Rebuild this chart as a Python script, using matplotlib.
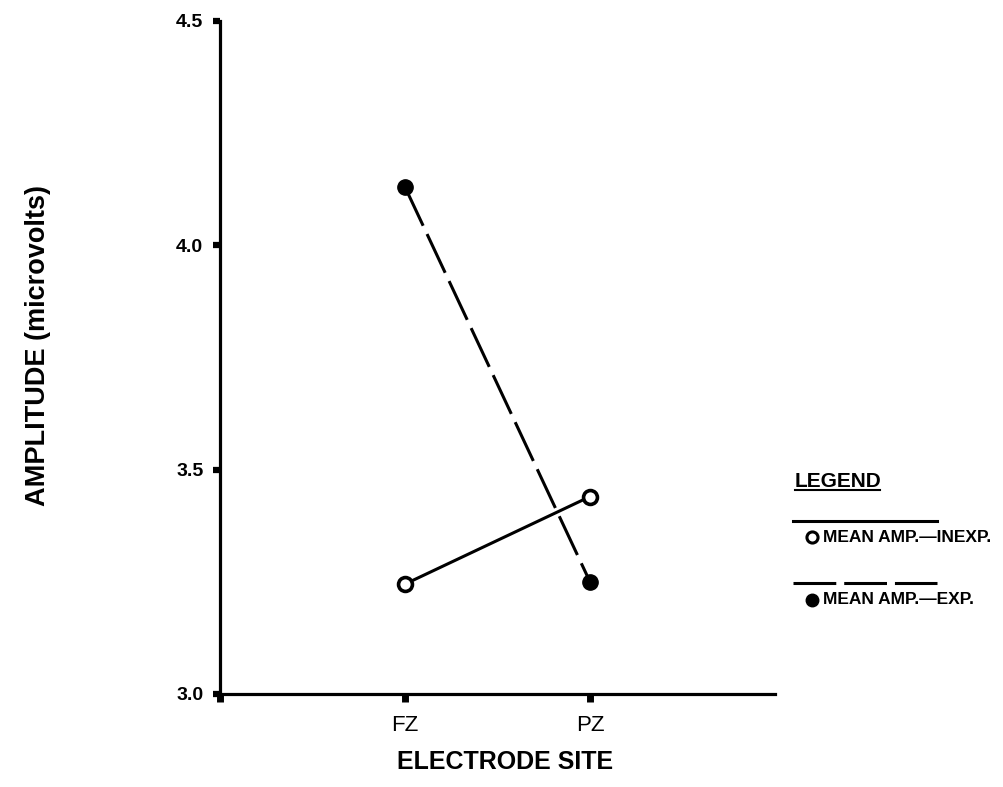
import numpy as np
import matplotlib
matplotlib.use("Agg")
import matplotlib.pyplot as plt
from matplotlib.lines import Line2D

# data
sites = ["FZ", "PZ"]
amp_inexp = [3.245, 3.44]
amp_exp = [4.13, 3.25]
y_ticks = [3.0, 3.5, 4.0, 4.5]
y_tick_labels = ["3.0", "3.5", "4.0", "4.5"]

plt.rcParams['font.family'] = ['Liberation Sans', 'DejaVu Sans']

W, H = 1004, 787
fig = plt.figure(figsize=(W / 100, H / 100), dpi=100)
ax = fig.add_axes([220 / W, 1 - 694 / H, 555 / W, 673 / H])

x = np.arange(1, len(sites) + 1)

# inexperienced: solid line, open circles
ax.plot(x, amp_inexp, color='black', lw=2.2, marker='o', ms=10,
        mfc='white', mec='black', mew=2.6, clip_on=False, zorder=3)
# experienced: long dashes, filled circles
ax.plot(x, amp_exp, color='black', lw=2.2, dashes=(14, 3), marker='o', ms=11,
        mfc='black', mec='black', clip_on=False, zorder=3)

ax.set_xlim(0, 3)
ax.set_ylim(3.0, 4.5)
ax.set_xticks([0] + list(x))
ax.set_xticklabels([''] + sites, fontsize=16)
ax.set_yticks(y_ticks)
ax.set_yticklabels(y_tick_labels, fontsize=14, fontweight='bold')

for s in ['top', 'right']:
    ax.spines[s].set_visible(False)
for s in ['left', 'bottom']:
    ax.spines[s].set_linewidth(2.3)

ax.tick_params(axis='y', direction='out', length=5, width=4.5, pad=7)
ax.tick_params(axis='x', direction='out', length=6, width=5, pad=9)

ax.set_xlabel("ELECTRODE SITE", fontsize=18, fontweight='bold')
ax.xaxis.set_label_coords((505 - 220) / 555, (694 - 762) / 673)
ax.xaxis.label.set_va('center')
ax.set_ylabel("AMPLITUDE (microvolts)", fontsize=19.5, fontweight='bold')
ax.yaxis.set_label_coords((38 - 220) / 555, (694 - 346) / 673)
ax.yaxis.label.set_va('center')

# hand-drawn style legend to the right of the plot
def fx(px):
    return px / W

def fy(py):
    return 1 - py / H

fig.text(fx(795), fy(481), "LEGEND", fontsize=15, fontweight='bold',
         ha='left', va='center')
fig.add_artist(Line2D([fx(795), fx(880)], [fy(490), fy(490)],
                      color='black', lw=1.5))

fig.add_artist(Line2D([fx(793), fx(937)], [fy(521), fy(521)],
                      color='black', lw=2.2))
fig.add_artist(Line2D([fx(812)], [fy(537)], marker='o', ms=8, mfc='white',
                      mec='black', mew=2.2, lw=0))
fig.text(fx(823), fy(537), "MEAN AMP.\u2014INEXP.", fontsize=12.5,
         fontweight='bold', ha='left', va='center')

fig.add_artist(Line2D([fx(793), fx(937)], [fy(583), fy(583)],
                      color='black', lw=2.2, dashes=(14, 2.6)))
fig.add_artist(Line2D([fx(812)], [fy(600)], marker='o', ms=9, mfc='black',
                      mec='black', lw=0))
fig.text(fx(823), fy(600), "MEAN AMP.\u2014EXP.", fontsize=12.5,
         fontweight='bold', ha='left', va='center')

fig.savefig("out.png", dpi=100, facecolor='white')
